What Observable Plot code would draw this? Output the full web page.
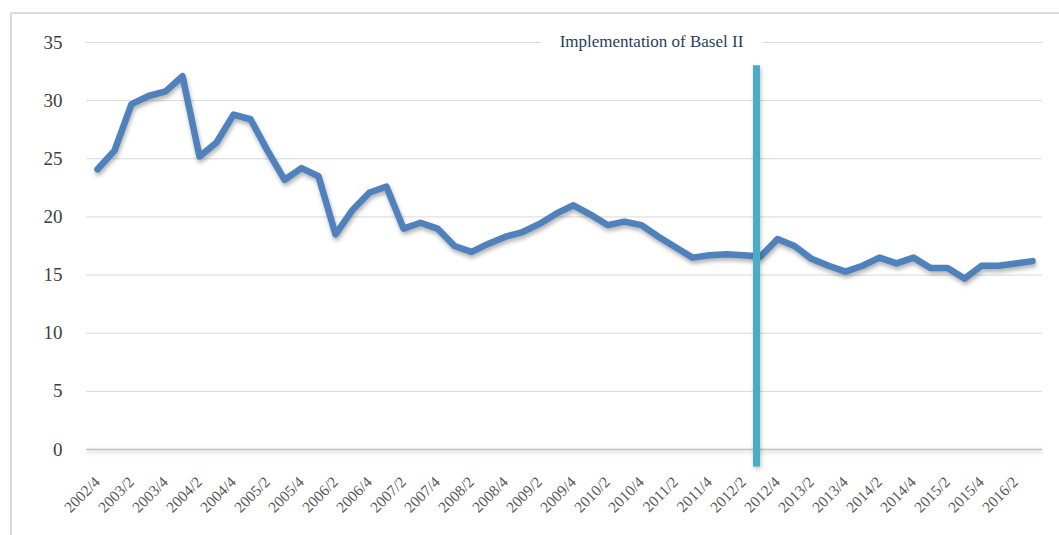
<!DOCTYPE html>
<html>
<head>
<meta charset="utf-8">
<script src="https://cdn.jsdelivr.net/npm/d3@7"></script>
<script src="https://cdn.jsdelivr.net/npm/@observablehq/plot@0.6"></script>
<style>
  body { margin: 0; background: #fff; }
  #wrap { position: relative; width: 1059px; height: 535px; overflow: hidden; }
  #border { position: absolute; left: 10px; top: 12px; width: 1100px; height: 600px;
            border-left: 2px solid #dcdcdc; border-top: 2px solid #dcdcdc; }
  #chart { position: absolute; left: 0; top: 0; }
</style>
</head>
<body>
<div id="wrap"><div id="border"></div><div id="chart"></div></div>
<script>
const quarters = [
  "2002/4",
  "2003/1","2003/2","2003/3","2003/4",
  "2004/1","2004/2","2004/3","2004/4",
  "2005/1","2005/2","2005/3","2005/4",
  "2006/1","2006/2","2006/3","2006/4",
  "2007/1","2007/2","2007/3","2007/4",
  "2008/1","2008/2","2008/3","2008/4",
  "2009/1","2009/2","2009/3","2009/4",
  "2010/1","2010/2","2010/3","2010/4",
  "2011/1","2011/2","2011/3","2011/4",
  "2012/1","2012/2","2012/3","2012/4",
  "2013/1","2013/2","2013/3","2013/4",
  "2014/1","2014/2","2014/3","2014/4",
  "2015/1","2015/2","2015/3","2015/4",
  "2016/1","2016/2","2016/3"
];
const ratio = [
  24.1,
  25.7, 29.7, 30.4, 30.8,
  32.1, 25.2, 26.4, 28.8,
  28.4, 25.7, 23.2, 24.2,
  23.5, 18.5, 20.6, 22.1,
  22.6, 19.0, 19.5, 19.0,
  17.5, 17.0, 17.7, 18.3,
  18.7, 19.4, 20.3, 21.0,
  20.2, 19.3, 19.6, 19.3,
  18.3, 17.4, 16.5, 16.7,
  16.8, 16.7, 16.6, 18.1,
  17.5, 16.4, 15.8, 15.3,
  15.8, 16.5, 16.0, 16.5,
  15.6, 15.6, 14.7, 15.8,
  15.8, 16.0, 16.2
];
const xTickLabels = [
  "2002/4","2003/2","2003/4","2004/2","2004/4","2005/2","2005/4",
  "2006/2","2006/4","2007/2","2007/4","2008/2","2008/4","2009/2",
  "2009/4","2010/2","2010/4","2011/2","2011/4","2012/2","2012/4",
  "2013/2","2013/4","2014/2","2014/4","2015/2","2015/4","2016/2"
];
const yTicks = [0, 5, 10, 15, 20, 25, 30, 35];
const baselQuarter = ["2012/3"];
const baselFrom = [-1.5];
const baselTo = [33];
const annotationText = ["Implementation of Basel II"];
const annotationQuarter = ["2010/4"];
const annotationValue = [35];

const series = quarters.map((q, i) => ({ q, v: ratio[i] }));
const basel = baselQuarter.map((q, i) => ({ q, y1: baselFrom[i], y2: baselTo[i] }));
const note = annotationText.map((t, i) => ({ t, q: annotationQuarter[i], v: annotationValue[i] }));

const chart = Plot.plot({
  width: 1059,
  height: 535,
  marginLeft: 86,
  marginRight: 17,
  marginTop: 42,
  marginBottom: 86,
  style: { fontFamily: "'Liberation Serif', 'Times New Roman', serif", background: "transparent", overflow: "visible" },
  x: { type: "point", domain: quarters, padding: 0.5, label: null },
  y: { domain: [0, 35], label: null },
  marks: [
    Plot.gridY(yTicks, { stroke: "#d9d9d9", strokeOpacity: 1, strokeWidth: 1 }),
    Plot.ruleY([0], { stroke: "#c4c4c4", strokeWidth: 1.6 }),
    Plot.axisY(yTicks, { tickSize: 0, tickPadding: 24, fontSize: 19, fill: "#404040", label: null }),
    Plot.axisX(xTickLabels, { tickSize: 0, tickRotate: -45, tickPadding: 30, fontSize: 15.5, fill: "#595959", label: null }),
    Plot.text(note, { x: "q", y: "v", text: "t", dx: 10, dy: -1, fontSize: 17,
      fill: "white", stroke: "white", strokeWidth: 40, strokeLinejoin: "round" }),
    Plot.text(note, { x: "q", y: "v", text: "t", dx: 10, dy: -1, fontSize: 17, fill: "#243f60" }),
    Plot.line(series, { x: "q", y: "v", stroke: "#4F81BD", strokeWidth: 6.5,
      strokeLinejoin: "round", strokeLinecap: "round" }),
    Plot.ruleX(basel, { x: "q", y1: "y1", y2: "y2", dx: -4, stroke: "#4BACC6", strokeWidth: 7 })
  ]
});

d3.select(chart).selectAll('g[aria-label="line"] path')
  .style("filter", "drop-shadow(1px 3px 2px rgba(0,0,0,0.3))");
d3.select(chart).selectAll('g[aria-label="rule"] line')
  .style("filter", "drop-shadow(1px 2px 2px rgba(0,0,0,0.25))");

document.getElementById("chart").appendChild(chart);
</script>
</body>
</html>
